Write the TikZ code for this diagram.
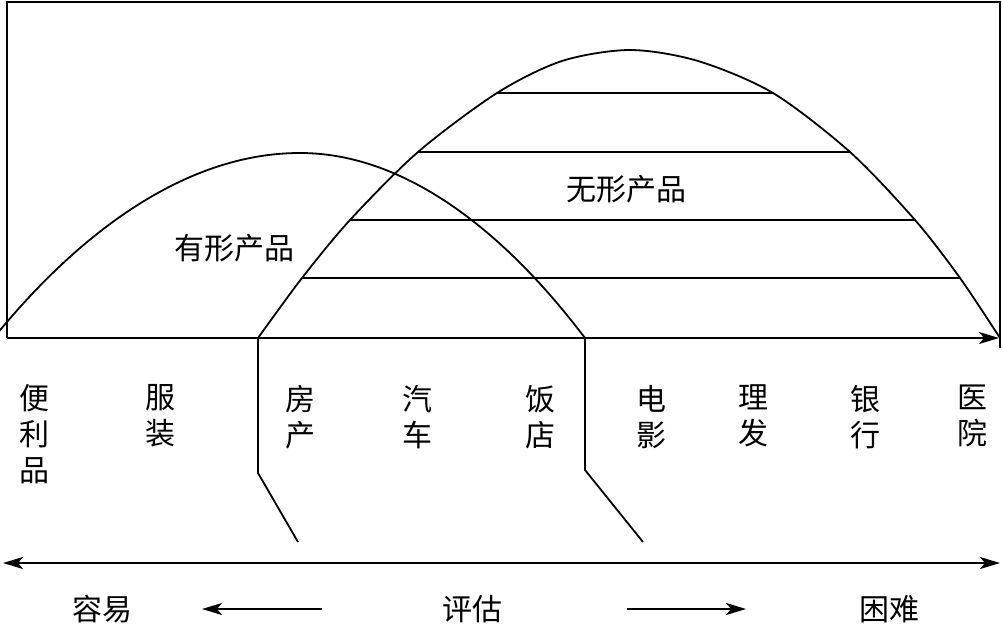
\documentclass[tikz,border=0pt]{standalone}
\usepackage{fontspec}
\setmainfont{Noto Sans CJK SC}
\usetikzlibrary{arrows.meta}
\begin{document}
\begin{tikzpicture}[x=1pt,y=-1pt,line width=1.8pt,
  lbl/.style={font=\fontsize{30}{36}\selectfont,inner sep=0pt},
  col/.style={lbl,align=center,anchor=north},
  tipr/.style={-{Stealth[length=20pt,width=12pt,inset=5pt]}},
  tipb/.style={{Stealth[length=20pt,width=12pt,inset=5pt]}-{Stealth[length=20pt,width=12pt,inset=5pt]}}]
\useasboundingbox (0,0) rectangle (1003,626);
\clip (0,0) rectangle (1003,626);
% frame
\coordinate (FBL) at (7,338);
\coordinate (FTL) at (7,2);
\coordinate (FTR) at (1000,2);
\coordinate (FBR) at (1000,348);
\coordinate (AX) at (999,338);
\draw (FBL) -- (FTL) -- (FTR) -- (FBR);
\draw[tipr] (FBL) -- (AX);
% tangible products curve
\coordinate (L0) at (-6.5,338);
\coordinate (LT) at (300,153);
\coordinate (L1) at (585,338);
\coordinate (L2) at (585,470);
\coordinate (L3) at (643,542);
\draw (L0) parabola bend (LT) (L1) -- (L2) -- (L3);
% intangible products curve
\coordinate (R0) at (258,338);
\coordinate (R2) at (258,473);
\coordinate (R3) at (298,542);
\draw plot[smooth] coordinates {(258,338) (302,278) (350,220) (418,152) (497,93) (562,61) (630,50) (698,61) (773,93) (850,152) (915,220) (960,278) (1000,338)};
\draw (R0) -- (R2) -- (R3);
% horizontal bands
\coordinate (h1a) at (497,93);  \coordinate (h1b) at (773,93);
\coordinate (h2a) at (418,152); \coordinate (h2b) at (850,152);
\coordinate (h3a) at (350,220); \coordinate (h3b) at (915,220);
\coordinate (h4a) at (302,278); \coordinate (h4b) at (960,278);
\draw (h1a) -- (h1b);
\draw (h2a) -- (h2b);
\draw (h3a) -- (h3b);
\draw (h4a) -- (h4b);
% labels
\node[lbl] (tang) at (234,248) {有形产品};
\node[lbl] (intang) at (626,189) {无形产品};
% columns
\node[col] (c1) at (34,384) {便\\利\\品};
\node[col] (c2) at (160,384) {服\\装};
\node[col] (c3) at (300,384) {房\\产};
\node[col] (c4) at (417,384) {汽\\车};
\node[col] (c5) at (540,384) {饭\\店};
\node[col] (c6) at (651,384) {电\\影};
\node[col] (c7) at (753,384) {理\\发};
\node[col] (c8) at (865,384) {银\\行};
\node[col] (c9) at (972,384) {医\\院};
% evaluation axis
\coordinate (E0) at (3,563);
\coordinate (E1) at (1000,563);
\draw[tipb] (E0) -- (E1);
\node[lbl] (easy) at (102,609) {容易};
\node[lbl] (eval) at (472,609) {评估};
\node[lbl] (hard) at (889,609) {困难};
\coordinate (a1s) at (322,609); \coordinate (a1e) at (202,609);
\coordinate (a2s) at (627,609); \coordinate (a2e) at (746,609);
\draw[tipr] (a1s) -- (a1e);
\draw[tipr] (a2s) -- (a2e);
\end{tikzpicture}
\end{document}
